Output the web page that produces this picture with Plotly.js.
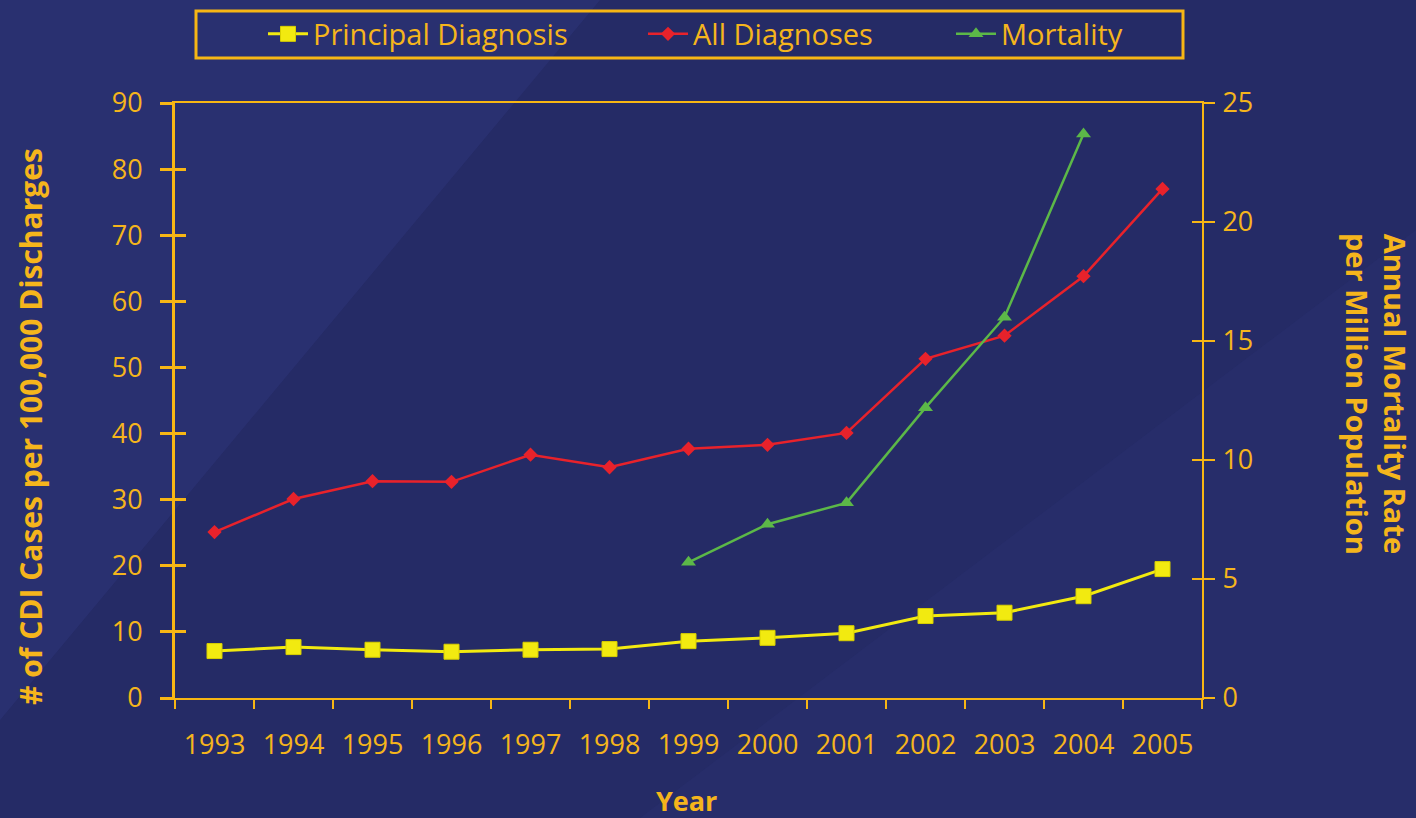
<!DOCTYPE html>
<html>
<head>
<meta charset="utf-8">
<script src="https://cdn.plot.ly/plotly-3.0.1.min.js"></script>
<style>
html,body{margin:0;padding:0;background:#252b66;}
#chart{width:1416px;height:818px;}
</style>
</head>
<body>
<div id="chart"></div>
<script>
// ---- data ----
const years = [1993,1994,1995,1996,1997,1998,1999,2000,2001,2002,2003,2004,2005];
const yearLabels = ["1993","1994","1995","1996","1997","1998","1999","2000","2001","2002","2003","2004","2005"];
const principalDiagnosis = [7.1,7.7,7.3,7.0,7.3,7.4,8.6,9.1,9.8,12.4,12.9,15.4,19.5];
const allDiagnoses = [25.1,30.1,32.8,32.7,36.8,34.9,37.7,38.3,40.1,51.3,54.8,63.8,77.0];
const mortalityYears = [1999,2000,2001,2002,2003,2004];
const mortalityRate = [5.7,7.3,8.2,12.2,16.0,23.7];
const seriesNames = ["Principal Diagnosis","All Diagnoses","Mortality"];

// ---- style ----
const W = 1416, H = 818;
const M = {l:175, r:214, t:103, b:120, autoexpand: false};
const gold = "#f7b614";
const goldText = "#f5b51c";
const font = "Open Sans, Noto Sans, sans-serif";
const pw = W - M.l - M.r, ph = H - M.t - M.b;
const px = x => (x - M.l) / pw;
const py = y => (H - M.b - y) / ph;
const P = (x,y) => px(x).toFixed(4) + "," + py(y).toFixed(4);

const xRange = [years[0]-0.5, years[years.length-1]+0.5];

const traces = [
  {x: years, y: principalDiagnosis, name: seriesNames[0], type: "scatter", mode: "lines+markers",
   line: {color: "#f2ea10", width: 3}, marker: {symbol: "square", size: 15, color: "#f2ea10", line:{color:"#d8cf00", width:1}},
   xaxis: "x", yaxis: "y", legend: "legend"},
  {x: years, y: allDiagnoses, name: seriesNames[1], type: "scatter", mode: "lines+markers",
   line: {color: "#e8222b", width: 2.5}, marker: {symbol: "diamond", size: 11, color: "#e8222b"},
   xaxis: "x", yaxis: "y", legend: "legend2"},
  {x: mortalityYears, y: mortalityRate, name: seriesNames[2], type: "scatter", mode: "lines+markers",
   line: {color: "#5cb848", width: 2.5}, marker: {symbol: "triangle-up", size: 13, color: "#5cb848"},
   xaxis: "x", yaxis: "y2", legend: "legend3"},
  // empty helper traces so overlay tick axes render
  {x: [], y: [], xaxis: "x2", yaxis: "y", showlegend: false, hoverinfo: "skip"},
  {x: [], y: [], xaxis: "x", yaxis: "y3", showlegend: false, hoverinfo: "skip"},
  {x: [], y: [], xaxis: "x", yaxis: "y4", showlegend: false, hoverinfo: "skip"}
];

const legendBase = {
  orientation: "h", bgcolor: "rgba(0,0,0,0)", borderwidth: 0,
  font: {family: font, size: 29, color: goldText},
  xanchor: "left", yanchor: "middle", y: py(34), itemwidth: 40
};

const layout = {
  width: W, height: H,
  margin: M,
  paper_bgcolor: "#252b66",
  plot_bgcolor: "rgba(0,0,0,0)",
  font: {family: font, color: goldText},
  showlegend: true,
  legend: Object.assign({}, legendBase, {x: px(263)}),
  legend2: Object.assign({}, legendBase, {x: px(643)}),
  legend3: Object.assign({}, legendBase, {x: px(951)}),
  xaxis: {
    type: "linear", range: xRange, tickmode: "array", tickvals: years, ticktext: yearLabels,
    ticks: "", showgrid: false, zeroline: false, showline: true, linecolor: gold, linewidth: 2,
    mirror: true, tickfont: {family: font, size: 27, color: goldText}, ticklabelstandoff: 22
  },
  xaxis2: {
    type: "linear", range: xRange, overlaying: "x", anchor: "y", side: "bottom",
    tickmode: "linear", tick0: xRange[0], dtick: 1, ticks: "outside", ticklen: 10, tickwidth: 2, tickcolor: gold,
    showticklabels: false, showgrid: false, zeroline: false, showline: false
  },
  yaxis: {
    range: [0, 90], dtick: 10, tick0: 0, ticks: "outside", ticklen: 12, tickwidth: 3, tickcolor: gold,
    showgrid: false, zeroline: false, showline: true, linecolor: gold, linewidth: 3,
    tickfont: {family: font, size: 27, color: goldText}, ticklabelstandoff: 12
  },
  yaxis3: {
    range: [0, 90], dtick: 10, tick0: 0, overlaying: "y", anchor: "x", side: "left",
    ticks: "inside", ticklen: 11, tickwidth: 3, tickcolor: gold,
    showticklabels: false, showgrid: false, zeroline: false, showline: false
  },
  yaxis2: {
    range: [0, 25], dtick: 5, tick0: 0, overlaying: "y", anchor: "x", side: "right",
    ticks: "outside", ticklen: 11, tickwidth: 2, tickcolor: gold,
    showgrid: false, zeroline: false, showline: true, linecolor: gold, linewidth: 2,
    tickfont: {family: font, size: 27, color: goldText}, ticklabelstandoff: 2
  },
  yaxis4: {
    range: [0, 25], dtick: 5, tick0: 0, overlaying: "y", anchor: "x", side: "right",
    ticks: "inside", ticklen: 10, tickwidth: 2, tickcolor: gold,
    showticklabels: false, showgrid: false, zeroline: false, showline: false
  },
  shapes: [
    // subtle background lighting
    {type: "path", xref: "paper", yref: "paper", layer: "below", line: {width: 0},
     fillcolor: "rgba(60,70,150,0.22)",
     path: "M" + P(0,0) + " L" + P(600,0) + " L" + P(0,720) + " Z"},
    {type: "path", xref: "paper", yref: "paper", layer: "below", line: {width: 0},
     fillcolor: "rgba(60,70,150,0.10)",
     path: "M" + P(1416,230) + " L" + P(1416,818) + " L" + P(640,818) + " Z"},
    // legend box
    {type: "rect", xref: "paper", yref: "paper", x0: px(196), x1: px(1183), y0: py(58), y1: py(11),
     line: {color: gold, width: 3}, fillcolor: "rgba(0,0,0,0)"}
  ],
  annotations: [
    {text: "# of CDI Cases per 100,000 Discharges", xref: "paper", yref: "paper",
     x: px(30), y: py(427), textangle: -90, showarrow: false, xanchor: "center", yanchor: "middle",
     font: {family: font, size: 30, color: goldText, weight: "bold"}},
    {text: "Annual Mortality Rate<br>per Million Population", xref: "paper", yref: "paper",
     x: px(1377), y: py(394), textangle: 90, showarrow: false, xanchor: "center", yanchor: "middle",
     font: {family: font, size: 29, color: goldText, weight: "bold"}},
    {text: "Year", xref: "paper", yref: "paper",
     x: px(686), y: py(800), showarrow: false, xanchor: "center", yanchor: "middle",
     font: {family: font, size: 27, color: goldText, weight: "bold"}}
  ]
};

Plotly.newPlot("chart", traces, layout, {staticPlot: true, displayModeBar: false});
</script>
</body>
</html>
